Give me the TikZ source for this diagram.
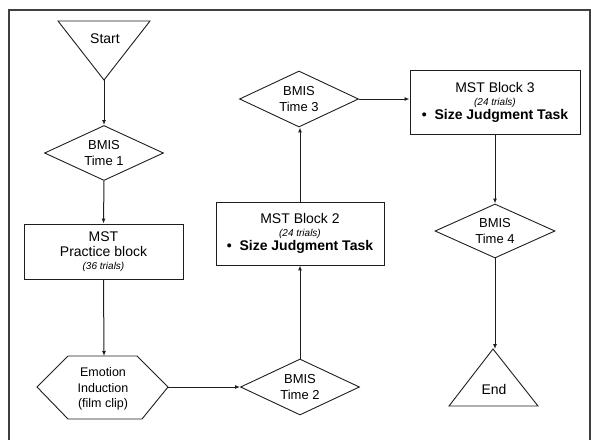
\documentclass[tikz,border=0pt]{standalone}
\usepackage{fontspec}
\setmainfont{Liberation Sans}
\usetikzlibrary{arrows.meta,shapes.geometric}
\definecolor{ink}{HTML}{1E1E1E}
\tikzset{
  boxnode/.style={draw=ink, line width=0.9pt, align=center, inner sep=0pt, font=\fontsize{14}{16}\selectfont},
  bmis/.style={diamond, draw=ink, line width=0.9pt, align=center, inner sep=0pt, aspect=2.2,
    minimum width=119pt, minimum height=55pt, font=\fontsize{13}{15.5}\selectfont},
  arr/.style={-{Latex[length=5pt,width=4pt]}, line width=1pt, draw=ink},
  shapeline/.style={draw=ink, line width=0.9pt, line join=miter}
}
\newcommand{\trialtext}[1]{{\fontsize{10}{12}\selectfont\itshape #1}}
\newcommand{\sizetask}{\textbf{\fontsize{14}{16}\selectfont\textbullet\ \ Size Judgment Task}}

\begin{document}
\begin{tikzpicture}[x=1pt,y=-1pt]
  \useasboundingbox (0,0) rectangle (591,439);
  % frame
  \draw[ink!85, line width=1.2pt] (9,441) -- (9,10) -- (590,10) -- (590,441);

  % start / end
  \draw[shapeline] (58,21) -- (150,21) -- (104,80) -- cycle;
  \coordinate (starttip) at (104,80);
  \node[font=\fontsize{14}{16}\selectfont] (start) at (105,39) {Start};
  \draw[shapeline] (449,406) -- (538,406) -- (493,349) -- cycle;
  \coordinate (endtip) at (493,349);
  \node[font=\fontsize{14}{16}\selectfont] (end) at (494,389) {End};

  % questionnaires
  \node[bmis] (bmis1) at (104,153) {BMIS\\Time 1};
  \node[bmis, minimum height=56pt] (bmis2) at (300,387) {BMIS\\Time 2};
  \node[bmis, minimum height=56pt] (bmis3) at (299,99) {BMIS\\Time 3};
  \node[bmis, minimum width=120pt, minimum height=54pt] (bmis4) at (495,231) {BMIS\\Time 4};

  % blocks
  \node[boxnode, minimum width=159pt, minimum height=55pt] (practice) at (103.5,251.5)
    {MST\\[-1pt]Practice block\\[-3pt]\trialtext{(36 trials)}};
  \node[boxnode, minimum width=168pt, minimum height=63pt] (block2) at (300,233.5)
    {MST Block 2\\[-3pt]\trialtext{(24 trials)}\\[-2pt]\sizetask};
  \node[boxnode, minimum width=170pt, minimum height=64pt] (block3) at (495,102)
    {MST Block 3\\[-3pt]\trialtext{(24 trials)}\\[-2pt]\sizetask};

  % induction
  \draw[shapeline] (37,387) -- (68,356) -- (137,356) -- (168,387) -- (142,419) -- (68,419) -- cycle;
  \coordinate (induct top) at (104,356);
  \coordinate (induct right) at (168,387);
  \node[align=center, font=\fontsize{12.5}{15.5}\selectfont] (induct) at (103,389)
    {Emotion\\Induction\\(film clip)};

  % flow
  \draw[arr] (starttip) -- (bmis1.north);
  \draw[arr] (bmis1.south) -- (practice.north);
  \draw[arr] (practice.south) -- (induct top);
  \draw[arr] (induct right) -- (bmis2.west);
  \draw[arr] (bmis2.north) -- (block2.south);
  \draw[arr] (block2.north) -- (bmis3.south -| block2.north);
  \draw[arr] (bmis3.east) -- (block3.west |- bmis3.east);
  \draw[arr] (block3.south -| bmis4.north) -- (bmis4.north);
  \draw[arr] (bmis4.south) -- (endtip -| bmis4.south);
\end{tikzpicture}
\end{document}
